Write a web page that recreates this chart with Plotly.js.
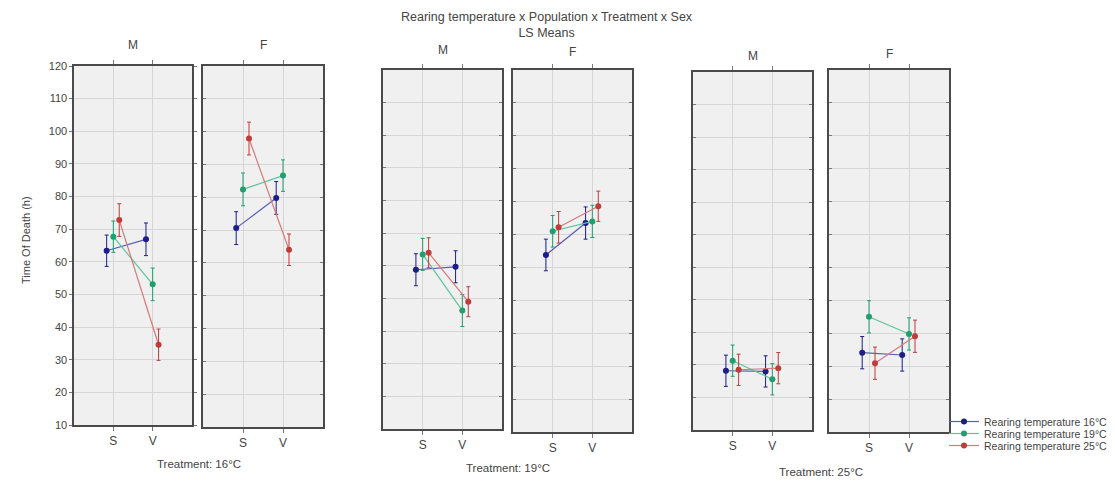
<!DOCTYPE html>
<html>
<head>
<meta charset="utf-8">
<script src="https://cdn.plot.ly/plotly-3.0.1.min.js"></script>
<style>html,body{margin:0;padding:0;background:#fff;}#chart{width:1115px;height:481px;}</style>
</head>
<body>
<div id="chart"></div>
<script>
// ---- data ----
const categories = ['S', 'V'];
const treatments = ['Treatment: 16°C', 'Treatment: 19°C', 'Treatment: 25°C'];
const sexes = ['M', 'F'];
const seriesNames = ['Rearing temperature 16°C', 'Rearing temperature 19°C', 'Rearing temperature 25°C'];
// panel order: 16°C M, 16°C F, 19°C M, 19°C F, 25°C M, 25°C F ; each [S, V]
const rear16 = [[63.4, 66.9], [70.6, 79.8], [58.8, 59.7], [63.8, 73.5], [28.2, 28.0], [34.1, 33.4]];
const rear19 = [[67.7, 53.1], [82.4, 86.6], [63.5, 46.3], [71.0, 74.0], [31.3, 25.6], [45.0, 39.8]];
const rear25 = [[72.8, 34.6], [97.9, 64.0], [64.0, 49.0], [72.2, 78.6], [28.5, 29.0], [30.9, 39.1]];
const err16 = [[4.8, 5.0], [5.0, 5.0], [4.9, 4.9], [4.8, 4.9], [4.8, 4.8], [4.9, 4.9]];
const err19 = [[4.8, 5.0], [5.0, 4.8], [4.9, 4.9], [4.8, 4.9], [4.8, 4.8], [4.9, 4.9]];
const err25 = [[5.0, 4.8], [5.0, 4.8], [4.6, 4.6], [4.8, 4.6], [4.8, 4.8], [4.9, 4.9]];
const yTicks = [10, 20, 30, 40, 50, 60, 70, 80, 90, 100, 110, 120];

// ---- styling / geometry ----
const W = 1115, H = 481;
const colors = ['#1c1c8a', '#1f9e6e', '#c23b3b'];
const lineColors = ['#5a5ab8', '#5cc59a', '#d47a7a'];
const offsets = [-0.17, 0, 0.15];
const panelsPx = [
  {x0: 74, x1: 192, y0: 66, y1: 425},
  {x0: 203, x1: 323, y0: 66, y1: 427},
  {x0: 383, x1: 502, y0: 70, y1: 429},
  {x0: 513, x1: 632, y0: 70, y1: 432},
  {x0: 693, x1: 812, y0: 72, y1: 430},
  {x0: 829, x1: 949, y0: 70, y1: 432}
];
const headerPx = [45, 45, 50, 52, 56, 54];
const seriesVals = [rear16, rear19, rear25];
const seriesErr = [err16, err19, err25];
const legendIds = ['legend', 'legend2', 'legend3'];
const legendTopPx = [407, 419, 431];

const traces = [];
const layout = {
  width: W, height: H,
  margin: {l: 0, r: 0, t: 0, b: 0},
  paper_bgcolor: '#ffffff',
  plot_bgcolor: '#f0f0f0',
  font: {family: 'Liberation Sans, Arial, sans-serif', size: 11, color: '#444'},
  showlegend: true,
  annotations: [],
  shapes: []
};
legendIds.forEach((id, k) => {
  layout[id] = {
    x: 944 / W, y: 1 - legendTopPx[k] / H, xanchor: 'left', yanchor: 'top',
    font: {size: 10.5, color: '#444'}, bgcolor: 'rgba(0,0,0,0)',
    itemwidth: 30, tracegroupgap: 0
  };
});

panelsPx.forEach((p, i) => {
  const ax = i === 0 ? '' : String(i + 1);
  const xa = 'xaxis' + ax, ya = 'yaxis' + ax;
  layout[xa] = {
    domain: [p.x0 / W, p.x1 / W],
    range: [-1, 2],
    tickvals: [0, 1], ticktext: categories,
    showgrid: true, gridcolor: '#d6d6d6', gridwidth: 1,
    zeroline: false,
    showline: true, linecolor: '#4a4a4a', linewidth: 1.6, mirror: 'ticks',
    ticks: 'outside', ticklen: 4, tickcolor: '#777',
    tickfont: {size: 12, color: '#444'},
    anchor: 'y' + ax, fixedrange: true
  };
  layout[ya] = {
    domain: [1 - p.y1 / H, 1 - p.y0 / H],
    range: [10, 120],
    tickvals: yTicks,
    showticklabels: i === 0,
    showgrid: true, gridcolor: '#d6d6d6', gridwidth: 1,
    zeroline: false,
    showline: true, linecolor: '#4a4a4a', linewidth: 1.6, mirror: 'ticks',
    ticks: i === 0 ? 'outside' : 'inside', ticklen: 3, tickcolor: '#777',
    tickfont: {size: 11, color: '#444'},
    anchor: 'x' + ax, fixedrange: true
  };
  for (let s = 0; s < 3; s++) {
    traces.push({
      type: 'scatter', mode: 'lines+markers',
      xaxis: 'x' + ax, yaxis: 'y' + ax,
      x: categories.map((c, k) => k + offsets[s]),
      y: seriesVals[s][i],
      name: seriesNames[s],
      legend: legendIds[s],
      legendgroup: seriesNames[s],
      showlegend: i === 0,
      line: {color: lineColors[s], width: 1.2},
      marker: {color: colors[s], size: 6},
      error_y: {type: 'data', array: seriesErr[s][i], visible: true, color: colors[s], thickness: 1, width: 2},
      hoverinfo: 'skip'
    });
  }
  // panel header M / F
  layout.annotations.push({
    xref: 'paper', yref: 'paper', xanchor: 'center', yanchor: 'middle',
    x: ((p.x0 + p.x1) / 2) / W, y: 1 - headerPx[i] / H,
    text: sexes[i % 2], showarrow: false,
    font: {size: 12, color: '#444'}
  });
});

// treatment titles under each pair
for (let t = 0; t < 3; t++) {
  const a = panelsPx[2 * t], b = panelsPx[2 * t + 1];
  const yPx = [464, 468, 472][t];
  layout.annotations.push({
    xref: 'paper', yref: 'paper', xanchor: 'center', yanchor: 'middle',
    x: ((a.x0 + b.x1) / 2) / W, y: 1 - yPx / H,
    text: treatments[t], showarrow: false,
    font: {size: 11.5, color: '#444'}
  });
}
// main title
layout.annotations.push({
  xref: 'paper', yref: 'paper', xanchor: 'center', yanchor: 'middle', x: 547 / W, y: 1 - 25 / H,
  text: 'Rearing temperature x Population x Treatment x Sex<br>LS Means',
  showarrow: false, font: {size: 12.5, color: '#444'}
});
// y axis title
layout.annotations.push({
  xref: 'paper', yref: 'paper', xanchor: 'center', yanchor: 'middle', x: 26 / W, y: 1 - 240 / H,
  text: 'Time Of Death (h)', textangle: -90, showarrow: false,
  font: {size: 11, color: '#444'}
});

Plotly.newPlot('chart', traces, layout, {displayModeBar: false, staticPlot: true});
</script>
</body>
</html>
